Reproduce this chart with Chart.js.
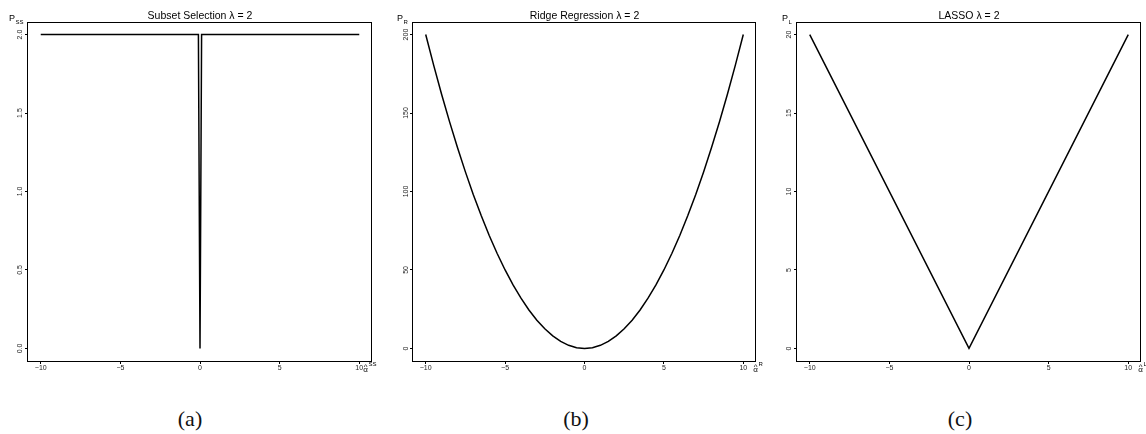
<!DOCTYPE html>
<html>
<head>
<meta charset="utf-8">
<title>Penalty functions</title>
<script src="https://cdn.jsdelivr.net/npm/chart.js@4.4.1/dist/chart.umd.min.js"></script>
<style>
  html, body { margin: 0; padding: 0; background: #fff; }
  #wrap { position: relative; width: 1146px; height: 434px; overflow: hidden; }
  canvas { position: absolute; top: 0; }
  .cap {
    position: absolute; top: 408px; line-height: 22px;
    font-family: "Liberation Serif", "DejaVu Serif", serif; font-size: 22px;
    color: #111; transform: translateX(-50%);
  }
</style>
</head>
<body>
<div id="wrap">
  <canvas id="cA" width="385" height="385" style="left:0px"></canvas>
  <canvas id="cB" width="385" height="385" style="left:385px"></canvas>
  <canvas id="cC" width="376" height="385" style="left:770px"></canvas>
  <div class="cap" style="left:190px">(a)</div>
  <div class="cap" style="left:576px">(b)</div>
  <div class="cap" style="left:960px">(c)</div>
</div>
<script>
// shared x axis
const xTicks = [-10, -5, 0, 5, 10];

// (a) subset selection
const ssX = [-10, -0.1, 0, 0.1, 10];
const ssY = [2, 2, 0, 2, 2];
const ssYTicks = [0, 0.5, 1, 1.5, 2];

// (b) ridge regression
const ridgeX = [-10, -9.5, -9, -8.5, -8, -7.5, -7, -6.5, -6, -5.5, -5, -4.5, -4, -3.5, -3, -2.5, -2, -1.5, -1, -0.5,
                0, 0.5, 1, 1.5, 2, 2.5, 3, 3.5, 4, 4.5, 5, 5.5, 6, 6.5, 7, 7.5, 8, 8.5, 9, 9.5, 10];
const ridgeY = [200, 180.5, 162, 144.5, 128, 112.5, 98, 84.5, 72, 60.5, 50, 40.5, 32, 24.5, 18, 12.5, 8, 4.5, 2, 0.5,
                0, 0.5, 2, 4.5, 8, 12.5, 18, 24.5, 32, 40.5, 50, 60.5, 72, 84.5, 98, 112.5, 128, 144.5, 162, 180.5, 200];
const ridgeYTicks = [0, 50, 100, 150, 200];

// (c) lasso
const lassoX = [-10, 0, 10];
const lassoY = [20, 0, 20];
const lassoYTicks = [0, 5, 10, 15, 20];

const SANS = '"Liberation Sans", Arial, Helvetica, sans-serif';

// frame, title and axis labels drawn on top of the chart
const decor = {
  id: 'decor',
  afterDraw(chart, args, o) {
    const { ctx, chartArea: a, scales } = chart;
    ctx.save();
    ctx.strokeStyle = '#000';
    ctx.lineWidth = 1;
    const l = Math.round(a.left), t = Math.round(a.top);
    ctx.strokeRect(l - 0.5, t + 0.5, Math.round(a.right) - l, Math.round(a.bottom) - t);

    ctx.fillStyle = '#000';
    ctx.textBaseline = 'alphabetic';
    ctx.textAlign = 'center';
    ctx.font = '10.5px ' + SANS;
    ctx.fillText(o.title, (a.left + a.right) / 2, 19);

    // y label  P_sub
    ctx.textAlign = 'left';
    ctx.font = '9px ' + SANS;
    const px = a.left - o.yLabDx;
    ctx.fillText('P', px, 21);
    const pw = ctx.measureText('P').width;
    ctx.font = '6px ' + SANS;
    ctx.fillText(o.sub, px + pw + 0.5, 23.5);

    // x label  alpha-hat^sub
    const ax = scales.x.getPixelForValue(10) + o.xLabDx;
    ctx.font = '8px ' + SANS;
    ctx.fillText('\u03b1', ax, 372);
    const aw = ctx.measureText('\u03b1').width;
    ctx.font = '8px ' + SANS;
    ctx.textAlign = 'center';
    ctx.fillText('^', ax + aw / 2, 368.5);
    ctx.textAlign = 'left';
    ctx.font = '6px ' + SANS;
    ctx.fillText(o.sub, ax + aw + 0.5, 366);
    ctx.restore();
  }
};

// R style range: data span extended by 4% each side
function padRange(vals) {
  const lo = Math.min(...vals), hi = Math.max(...vals);
  const d = (hi - lo) * 0.04;
  return { min: lo - d, max: hi + d };
}

function fmtX(v) {
  return v < 0 ? '\u2212' + Math.abs(v) : String(v);
}

function makePanel(id, xs, ys, yTicks, cfg) {
  const xr = padRange(xTicks);
  const yr = padRange(yTicks);
  const axisGrid = { display: true, drawOnChartArea: false, drawTicks: true, tickLength: 3, color: '#000', lineWidth: 1 };
  return new Chart(document.getElementById(id), {
    type: 'scatter',
    data: {
      datasets: [{
        data: xs.map((x, i) => ({ x, y: ys[i] })),
        showLine: true,
        borderColor: '#000',
        borderWidth: 1.5,
        pointRadius: 0,
        tension: 0,
      }],
    },
    options: {
      responsive: false,
      animation: false,
      events: [],
      layout: { padding: { left: 0, top: 22, right: cfg.padRight, bottom: 0 } },
      scales: {
        x: {
          type: 'linear',
          min: xr.min,
          max: xr.max,
          border: { display: false },
          grid: axisGrid,
          afterBuildTicks: (s) => { s.ticks = xTicks.map(v => ({ value: v })); },
          afterFit: (s) => { s.height = 385 - 361; },
          ticks: {
            padding: 0,
            maxRotation: 0,
            autoSkip: false,
            color: '#222',
            font: { family: SANS, size: 7 },
            callback: fmtX,
          },
        },
        y: {
          type: 'linear',
          min: yr.min,
          max: yr.max,
          border: { display: false },
          grid: axisGrid,
          afterBuildTicks: (s) => { s.ticks = yTicks.map(v => ({ value: v })); },
          afterFit: (s) => { s.width = cfg.yAxisW; },
          ticks: {
            minRotation: 90,
            maxRotation: 90,
            crossAlign: 'center',
            padding: cfg.yTickPad,
            autoSkip: false,
            color: '#222',
            font: { family: SANS, size: 7 },
            callback: cfg.yFmt,
          },
        },
      },
      plugins: {
        legend: { display: false },
        tooltip: { enabled: false },
        decor: { title: cfg.title, sub: cfg.sub, yLabDx: cfg.yLabDx, xLabDx: cfg.xLabDx },
      },
    },
    plugins: [decor],
  });
}

makePanel('cA', ssX, ssY, ssYTicks, {
  title: 'Subset Selection \u03bb = 2', sub: 'SS',
  yAxisW: 28, padRight: 13, yTickPad: 0, yLabDx: 19, xLabDx: 4,
  yFmt: (v) => v.toFixed(1),
});
makePanel('cB', ridgeX, ridgeY, ridgeYTicks, {
  title: 'Ridge Regression \u03bb = 2', sub: 'R',
  yAxisW: 28, padRight: 14, yTickPad: -2, yLabDx: 16, xLabDx: 10,
  yFmt: (v) => String(v),
});
makePanel('cC', lassoX, lassoY, lassoYTicks, {
  title: 'LASSO \u03bb = 2', sub: 'L',
  yAxisW: 27, padRight: 5, yTickPad: 1, yLabDx: 15, xLabDx: 10,
  yFmt: (v) => String(v),
});
</script>
</body>
</html>
